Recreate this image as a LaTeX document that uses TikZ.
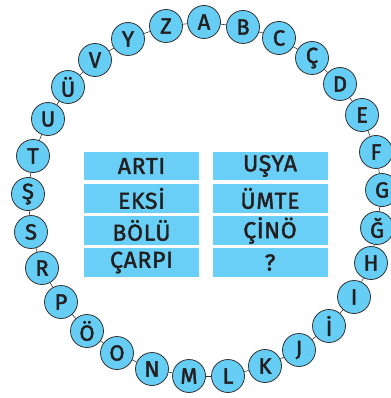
\documentclass[tikz,border=0pt]{standalone}
\usepackage{fontspec}
\setmainfont{Fira Sans}
\newfontfamily\lfont[LetterSpace=3]{Fira Sans}
\newcommand{\heavytxt}[1]{\special{pdf:literal direct 2 Tr 0.4 w}#1\special{pdf:literal direct 0 Tr}}
\definecolor{cblue}{RGB}{102,205,245}
\definecolor{bblue}{RGB}{106,207,246}
\definecolor{ink}{RGB}{35,31,32}
\definecolor{edge}{RGB}{50,50,50}
\begin{document}
\begin{tikzpicture}[x=1pt,y=-1pt,
  letter/.style={circle,draw=edge,line width=0.8pt,fill=cblue,minimum size=33pt,inner sep=0pt,text=ink,font=\lfont\fontsize{22}{22}\selectfont},
  wordbox/.style={rectangle,fill=bblue,minimum width=115pt,minimum height=28.5pt,inner sep=0pt,text=ink,font=\lfont\fontsize{23}{23}\selectfont},
  chain/.style={draw=edge,line width=0.6pt}]
\useasboundingbox (0,0) rectangle (390,398);
\foreach \nm/\t/\x/\y in {
  nA/A/204/22, nB/B/243/27, nC/C/279/38, nCc/Ç/312/58, nD/D/340/84,
  nE/E/362/115, nF/F/376/152, nG/G/382/190, nGg/Ğ/377/228, nH/H/371/263,
  nI/I/354/297, nIi/İ/329/326, nJ/J/299/350, nK/K/265/366, nL/L/228/376,
  nM/M/189/376, nN/N/152/369, nO/O/117/353, nOo/Ö/87/331, nP/P/61/302,
  nR/R/42/268, nS/S/31/232, nSs/Ş/28/194, nT/T/33/156, nU/U/48/119,
  nUu/Ü/68/87, nV/V/95/60, nY/Y/128/39, nZ/Z/166/26}
  {\node[letter] (\nm) at (\x,\y) {\heavytxt{\t}};}
\foreach \a/\b in {nA/nB, nB/nC, nC/nCc, nCc/nD, nD/nE, nE/nF, nF/nG, nG/nGg,
  nGg/nH, nH/nI, nI/nIi, nIi/nJ, nJ/nK, nK/nL, nL/nM, nM/nN, nN/nO, nO/nOo,
  nOo/nP, nP/nR, nR/nS, nS/nSs, nSs/nT, nT/nU, nU/nUu, nUu/nV, nV/nY, nY/nZ, nZ/nA}
  {\draw[chain] (\a) -- (\b);}
\node[wordbox] (w1) at (141.5,166) {\heavytxt{ARTI}};
\node[wordbox] (w2) at (141.5,198.5) {\heavytxt{EKSİ}};
\node[wordbox] (w3) at (141.5,230.5) {\heavytxt{BÖLÜ}};
\node[wordbox] (w4) at (141.5,262.5) {\heavytxt{ÇARPI}};
\node[wordbox] (w5) at (270,166) {\heavytxt{UŞYA}};
\node[wordbox] (w6) at (270,198.5) {\heavytxt{ÜMTE}};
\node[wordbox] (w7) at (270,230.5) {\heavytxt{ÇİNÖ}};
\node[wordbox] (w8) at (270,262.5) {\heavytxt{?}};
\end{tikzpicture}
\end{document}
